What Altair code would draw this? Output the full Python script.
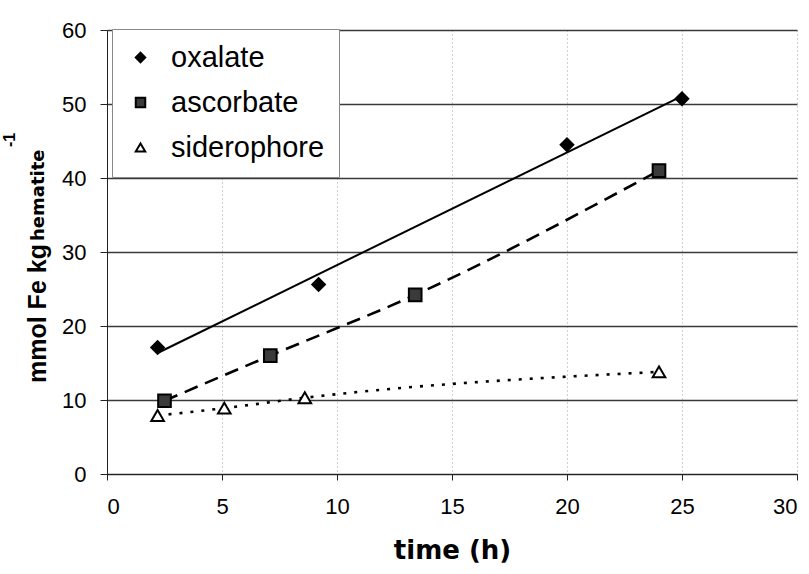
import altair as alt
import pandas as pd

series_names = ["oxalate", "ascorbate", "siderophore"]

oxalate_t = [2.2, 9.2, 20.0, 25.0]
oxalate_fe = [17.1, 25.6, 44.5, 50.7]

ascorbate_t = [2.5, 7.1, 13.4, 24.0]
ascorbate_fe = [9.9, 16.0, 24.2, 41.0]

siderophore_t = [2.2, 5.1, 8.6, 24.0]
siderophore_fe = [7.9, 8.9, 10.3, 13.8]

x_ticks = [0, 5, 10, 15, 20, 25, 30]
y_ticks = [0, 10, 20, 30, 40, 50, 60]

rows = []
for name, ts, vs in [("oxalate", oxalate_t, oxalate_fe),
                     ("ascorbate", ascorbate_t, ascorbate_fe),
                     ("siderophore", siderophore_t, siderophore_fe)]:
    for t, v in zip(ts, vs):
        rows.append({"series": name, "t": t, "fe": v})
df = pd.DataFrame(rows)

FONT = "Liberation Sans"
WIDE = "DejaVu Sans"

xs = alt.X("t:Q", scale=alt.Scale(domain=[0, 30], nice=False),
           axis=alt.Axis(values=x_ticks, title="time (h)", titleFontSize=26,
                         titleFont=WIDE, titleFontWeight="bold", titlePadding=20,
                         labelFontSize=22, tickSize=6, labelPadding=16,
                         grid=True, gridDash=[1, 3], gridColor="#a0a0a0",
                         gridWidth=1, domainColor="#222", tickColor="#222"))
ys = alt.Y("fe:Q", scale=alt.Scale(domain=[0, 60], nice=False),
           axis=alt.Axis(values=y_ticks, title=None, labelFontSize=22,
                         tickSize=7, labelPadding=14, grid=True,
                         gridColor="#3a3a3a", gridWidth=1.3,
                         domainColor="#222", tickColor="#222"))

base = alt.Chart(df)

points = base.mark_point(strokeWidth=2, opacity=1).encode(
    x=xs, y=ys,
    shape=alt.Shape("series:N", scale=alt.Scale(domain=series_names,
                    range=["diamond", "square", "triangle-up"]),
                    legend=alt.Legend(title=None)),
    fill=alt.Fill("series:N", scale=alt.Scale(domain=series_names,
                  range=["#000000", "#3a3a3a", "#ffffff"]),
                  legend=alt.Legend(title=None)),
    stroke=alt.Stroke("series:N", scale=alt.Scale(domain=series_names,
                      range=["#000000", "#000000", "#000000"]),
                      legend=alt.Legend(title=None)),
    size=alt.value(160),
)

ox_line = base.transform_filter(alt.datum.series == "oxalate").transform_regression(
    "t", "fe").mark_line(color="black", strokeWidth=2).encode(x="t:Q", y="fe:Q")

as_line = base.transform_filter(alt.datum.series == "ascorbate").mark_line(
    color="black", strokeWidth=2.6, strokeDash=[14, 8], interpolate="monotone"
).encode(x="t:Q", y="fe:Q")

si_line = base.transform_filter(alt.datum.series == "siderophore").mark_line(
    color="black", strokeWidth=2.6, strokeDash=[3, 8], interpolate="monotone"
).encode(x="t:Q", y="fe:Q")

title_main = alt.Chart(pd.DataFrame({"s": ["mmol Fe kg"]})).mark_text(
    angle=270, align="left", baseline="alphabetic", font=FONT, fontSize=25,
    fontWeight="bold", color="black"
).encode(text="s:N", x=alt.value(-61), y=alt.value(353))

title_sub = alt.Chart(pd.DataFrame({"s": ["hematite"]})).mark_text(
    angle=270, align="left", baseline="alphabetic", font=WIDE, fontSize=18,
    fontWeight="bold", color="black"
).encode(text="s:N", x=alt.value(-63), y=alt.value(211))

title_sup = alt.Chart(pd.DataFrame({"s": ["-1"]})).mark_text(
    angle=270, align="left", baseline="alphabetic", font=FONT, fontSize=16,
    fontWeight="bold", color="black"
).encode(text="s:N", x=alt.value(-92), y=alt.value(117))

chart = alt.layer(
    ox_line, as_line, si_line, points, title_main, title_sub, title_sup
).properties(
    width=690, height=444,
    padding={"left": 107, "top": 30, "right": 12, "bottom": 100},
    autosize=alt.AutoSizeParams(type="none"),
    background="white",
).configure_view(stroke=None).configure_axis(
    labelFont=FONT, titleFont=FONT, labelColor="black", titleColor="black"
).configure_legend(
    orient="none", legendX=5, legendY=-1, fillColor="white",
    strokeColor="#8a8a8a", padding=14, labelFont=FONT, labelFontSize=29,
    labelColor="black", symbolSize=90, rowPadding=15, labelOffset=16,
    symbolStrokeWidth=2, cornerRadius=0
)

chart.save("out.html", embed_options={"renderer": "svg", "actions": False})
